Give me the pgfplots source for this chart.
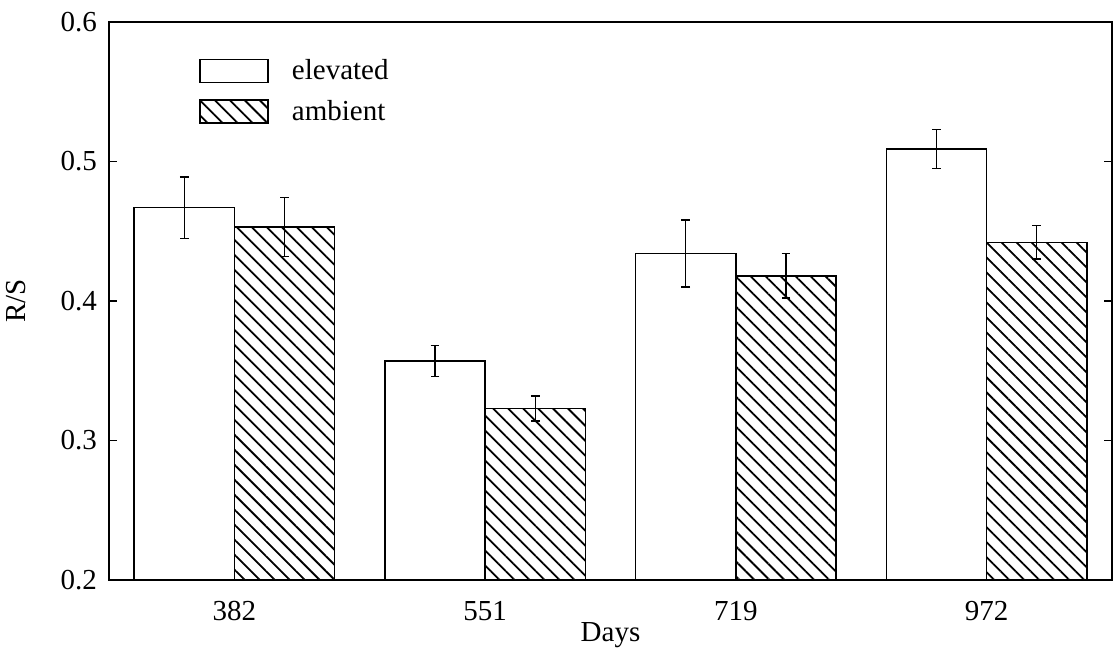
\documentclass[border=0pt]{standalone}
\usepackage{fontspec}
\setmainfont{Liberation Serif}
\usepackage{pgfplots}
\pgfplotsset{compat=1.18}
\usetikzlibrary{patterns.meta}

% R/S ratio by harvest day: mean and standard error
% columns: x (category index), y (mean), err
\pgfplotstableread{
x y err
0 0.467 0.022
1 0.357 0.011
2 0.434 0.024
3 0.509 0.014
}\elevated
\pgfplotstableread{
x y err
0 0.453 0.021
1 0.323 0.009
2 0.418 0.016
3 0.442 0.012
}\ambient

\begin{document}
\begin{tikzpicture}[font=\fontsize{14.5}{17}\selectfont]
\begin{axis}[
  name=ax,
  scale only axis,
  width=501.5pt, height=279pt,
  axis on top,
  axis line style={line width=0.8pt},
  every tick label/.append style={font=\fontsize{14.5}{17}\selectfont},
  label style={font=\fontsize{14.5}{17}\selectfont},
  xmin=-0.5, xmax=3.5,
  ymin=0.2, ymax=0.6,
  xtick={0,1,2,3},
  xticklabels={382,551,719,972},
  xtick style={draw=none},
  ytick={0.2,0.3,0.4,0.5,0.6},
  major tick length=4pt,
  tick style={line width=0.7pt, black},
  tick align=inside,
  /pgf/number format/assume math mode=true,
  yticklabel style={/pgf/number format/fixed, /pgf/number format/precision=1,
    /pgf/number format/fixed zerofill, xshift=-2.5pt},
  xticklabel style={yshift=-3.2pt},
  xlabel={Days},
  xlabel style={at={(axis description cs:0.5,0)}, anchor=north, yshift=-17.7pt},
  ylabel={R/S},
  ylabel style={at={(axis description cs:-0.0758,0.5)}, anchor=south, rotate=0},
  ybar,
  bar width=0.4,
  legend style={at={(axis description cs:0.0897,0.935)}, anchor=north west,
    draw=none, fill=none, inner sep=0pt,
    font=\fontsize{14.5}{17}\selectfont,
    nodes={inner sep=0pt, anchor=west},
    column sep=11.5pt, row sep=8pt},
  legend cell align=left,
  legend image code/.code={\draw[#1] (0pt,-5.75pt) rectangle (34pt,5.75pt);},
  error bars/y dir=both,
  error bars/y explicit,
  error bars/error bar style={line width=0.7pt, black},
  error bars/error mark options={rotate=90, mark size=2.2pt, line width=0.7pt, black},
]
\addplot+[bar shift=-0.2, draw=black, fill=white, line width=0.8pt]
  table[x=x, y=y, y error=err] {\elevated};
\addlegendentry{elevated}
\addplot+[bar shift=0.2, draw=black, line width=0.8pt,
  pattern={Lines[angle=-45, distance=5.3pt, line width=0.9pt]}, pattern color=black]
  table[x=x, y=y, y error=err] {\ambient};
\addlegendentry{ambient}
\end{axis}
\pgfresetboundingbox
\path ([shift={(-54.5pt,-35pt)}]ax.south west) rectangle ([shift={(0.5pt,11pt)}]ax.north east);
\end{tikzpicture}
\end{document}
